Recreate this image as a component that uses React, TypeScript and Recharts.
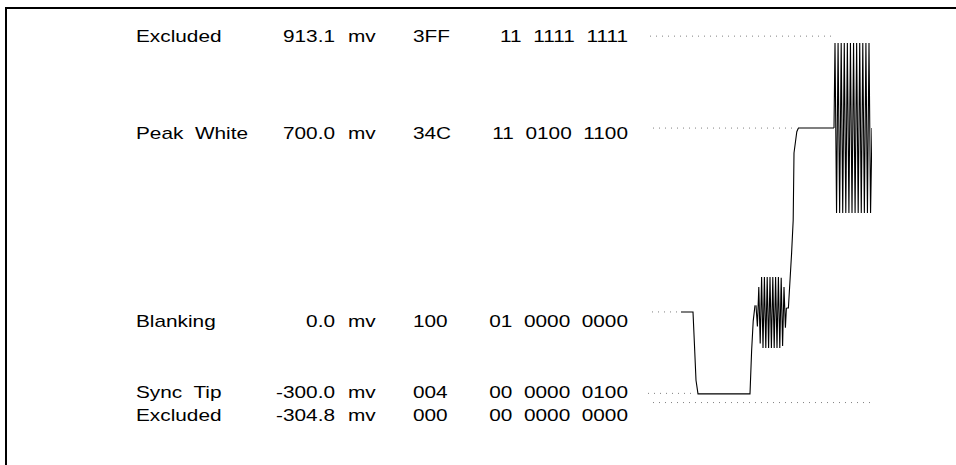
import { LineChart, Line, XAxis, YAxis } from 'recharts'

// Table rows, top to bottom
const levelNames = ['Excluded', 'Peak  White', 'Blanking', 'Sync  Tip', 'Excluded']
const levelMillivolts = ['913.1', '700.0', '0.0', '-300.0', '-304.8']
const levelHex = ['3FF', '34C', '100', '004', '000']
const levelBinary = ['11  1111  1111', '11  0100  1100', '01  0000  0000', '00  0000  0100', '00  0000  0000']

// Drawn level of each dotted guide (mV, schematic like the original drawing)
const excludedTopGuide = [{ t: 0.5, v: 1050 }, { t: 45.75, v: 1050 }]
const peakWhiteGuide = [{ t: 1.25, v: 700 }, { t: 37.25, v: 700 }]
const blankingGuide = [{ t: 1, v: 0 }, { t: 7.5, v: 0 }]
const syncTipGuide = [{ t: 0, v: -310 }, { t: 11, v: -310 }]
const excludedBottomGuide = [{ t: 1.25, v: -345 }, { t: 56, v: -345 }]

// Sync pulse and back porch
const syncPulse = [
  { t: 8.25, v: 0 }, { t: 11.25, v: 0 }, { t: 11.6, v: -120 }, { t: 12.0, v: -260 },
  { t: 12.5, v: -312 }, { t: 25.5, v: -312 }, { t: 25.9, v: -150 }, { t: 26.3, v: -35 },
  { t: 26.75, v: 25 },
]

// Colour burst around blanking
const colourBurst = [
  { t: 27.0, v: 25 }, { t: 27.35, v: -55 }, { t: 27.7, v: 95 }, { t: 28.05, v: -120 },
  { t: 28.4, v: 133 }, { t: 28.75, v: -137 }, { t: 29.1, v: 133 }, { t: 29.45, v: -137 },
  { t: 29.8, v: 133 }, { t: 30.15, v: -137 }, { t: 30.5, v: 133 }, { t: 30.85, v: -137 },
  { t: 31.2, v: 133 }, { t: 31.55, v: -137 }, { t: 31.9, v: 133 }, { t: 32.25, v: -137 },
  { t: 32.6, v: 133 }, { t: 32.95, v: -137 }, { t: 33.3, v: 130 }, { t: 33.65, v: -130 },
  { t: 34.0, v: 95 }, { t: 34.35, v: -60 }, { t: 34.6, v: 15 },
]

// Rise to peak white and flat top
const riseToWhite = [
  { t: 34.6, v: 15 }, { t: 35.1, v: 15 }, { t: 35.9, v: 224 }, { t: 36.3, v: 350 },
  { t: 36.5, v: 605 }, { t: 37.2, v: 686 }, { t: 37.6, v: 700 }, { t: 46.5, v: 700 },
]

// Large burst around peak white
const whiteBurst = [
  { t: 46.5, v: 700 },
  { t: 46.75, v: 1024 }, { t: 47.14, v: 377 }, { t: 47.52, v: 1024 }, { t: 47.91, v: 377 },
  { t: 48.3, v: 1024 }, { t: 48.68, v: 377 }, { t: 49.07, v: 1024 }, { t: 49.45, v: 377 },
  { t: 49.84, v: 1024 }, { t: 50.23, v: 377 }, { t: 50.61, v: 1024 }, { t: 51.0, v: 377 },
  { t: 51.39, v: 1024 }, { t: 51.77, v: 377 }, { t: 52.16, v: 1024 }, { t: 52.55, v: 377 },
  { t: 52.93, v: 1024 }, { t: 53.32, v: 377 }, { t: 53.7, v: 1024 }, { t: 54.09, v: 377 },
  { t: 54.48, v: 1024 }, { t: 54.86, v: 377 }, { t: 55.25, v: 1024 }, { t: 55.64, v: 377 },
  { t: 56.0, v: 700 },
]

const guides = [excludedTopGuide, peakWhiteGuide, blankingGuide, syncTipGuide, excludedBottomGuide]
const waveform = [syncPulse, colourBurst, riseToWhite, whiteBurst]

// layout of the text table
const rowBaselines = [42, 139, 327, 398, 421]
const FONT = '"Liberation Sans", Arial, sans-serif'
const STRETCH = 1.3

function Cell({ x, y, text, anchor = 'start' }: { x: number; y: number; text: string; anchor?: 'start' | 'end' }) {
  return (
    <text
      transform={`translate(${x},${y}) scale(${STRETCH},1)`}
      textAnchor={anchor}
      fontFamily={FONT}
      fontSize={16}
      fill="#000"
      style={{ whiteSpace: 'pre' }}
    >
      {text}
    </text>
  )
}

export default function App() {
  return (
    <div style={{ position: 'fixed', left: 0, top: 0, width: 956, height: 465, background: '#fff', overflow: 'hidden' }}>
      <div
        style={{
          position: 'absolute', left: 5, top: 7, right: 0, bottom: 0,
          borderTop: '2px solid #000', borderLeft: '2px solid #000',
        }}
      />
      <div style={{ position: 'absolute', left: 0, top: 0 }}>
        <LineChart width={956} height={465} margin={{ top: 23, right: 84, bottom: 48, left: 648 }}>
          <XAxis type="number" dataKey="t" domain={[0, 56]} hide allowDataOverflow />
          <YAxis type="number" dataKey="v" domain={[-400, 1100]} hide allowDataOverflow />
          {guides.map((g, i) => (
            <Line
              key={`g${i}`}
              data={g}
              dataKey="v"
              type="linear"
              stroke="#808080"
              strokeWidth={1}
              strokeDasharray="1 5"
              dot={false}
              isAnimationActive={false}
            />
          ))}
          {waveform.map((w, i) => (
            <Line
              key={`w${i}`}
              data={w}
              dataKey="v"
              type="linear"
              stroke="#000"
              strokeWidth={1.1}
              dot={false}
              isAnimationActive={false}
            />
          ))}
        </LineChart>
      </div>
      <svg width={956} height={465} style={{ position: 'absolute', left: 0, top: 0 }}>
        {levelNames.map((name, i) => (
          <g key={name + i}>
            <Cell x={136} y={rowBaselines[i]} text={name} />
            <Cell x={335} y={rowBaselines[i]} text={levelMillivolts[i]} anchor="end" />
            <Cell x={348} y={rowBaselines[i]} text="mv" />
            <Cell x={413} y={rowBaselines[i]} text={levelHex[i]} />
            <Cell x={628} y={rowBaselines[i]} text={levelBinary[i]} anchor="end" />
          </g>
        ))}
      </svg>
    </div>
  )
}
